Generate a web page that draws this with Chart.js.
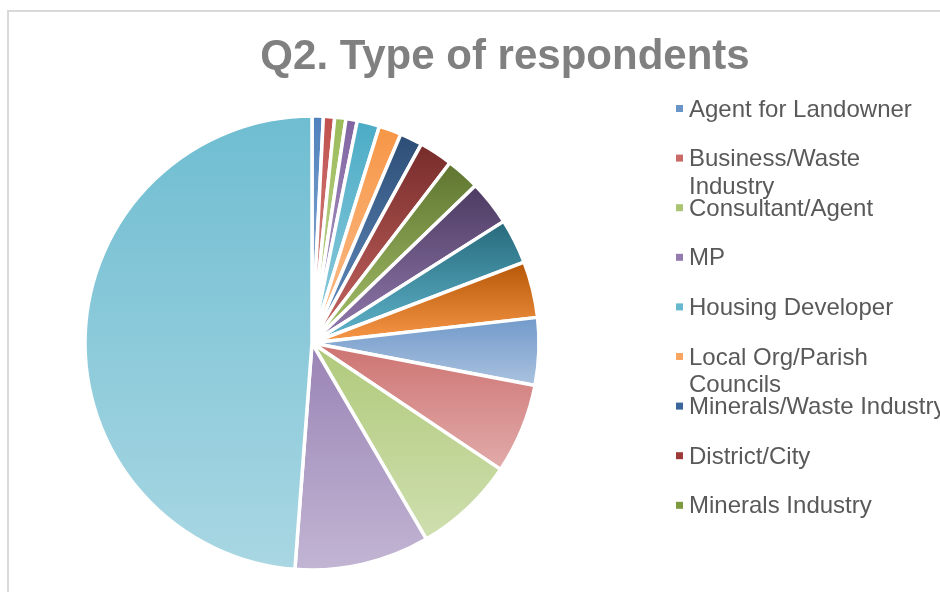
<!DOCTYPE html>
<html>
<head>
<meta charset="utf-8">
<script src="https://cdn.jsdelivr.net/npm/chart.js@4.4.1/dist/chart.umd.min.js"></script>
<style>
  html, body { margin: 0; padding: 0; background: #fff; overflow: hidden; }
  #wrap { position: relative; width: 940px; height: 592px; }
  #frame {
    position: absolute; left: 7px; top: 10px; width: 1000px; height: 700px;
    border-left: 2px solid #d9d9d9; border-top: 2px solid #d9d9d9;
  }
  canvas { position: absolute; left: 0; top: 0; }
</style>
</head>
<body>
<div id="wrap">
  <div id="frame"></div>
  <canvas id="respondentsPie" width="940" height="592"></canvas>
</div>
<script>
const chartTitle = "Q2. Type of respondents";

// only the first 9 names are visible in the legend, the rest are cut off
const respondentTypes = [
  "Agent for Landowner",
  ["Business/Waste", "Industry"],
  "Consultant/Agent",
  "MP",
  "Housing Developer",
  ["Local Org/Parish", "Councils"],
  "Minerals/Waste Industry",
  "District/City",
  "Minerals Industry",
  "Category 10",
  "Category 11",
  "Category 12",
  "Category 13",
  "Category 14",
  "Category 15",
  "Category 16",
  "Category 17"
];

const respondentCounts = [1, 1, 1, 1, 2, 2, 2, 3, 3, 4, 4, 5, 6, 8, 9, 12, 61];

const sliceColors = [
  "#4F81BD", "#C0504D", "#9BBB59", "#8064A2", "#4BACC6", "#F79646",
  "#2C4D75", "#772C2A", "#5F7530", "#4D3B62", "#276A7C", "#B65708",
  "#729ACA", "#CD7371", "#AFC97A", "#9983B5", "#6FBDD1"
];

const legendShown = 9;
const pieRadius = 227;

// lighten a hex colour in HSL space (Excel style gradient end)
function lighten(hex, k) {
  let r = parseInt(hex.slice(1, 3), 16) / 255;
  let g = parseInt(hex.slice(3, 5), 16) / 255;
  let b = parseInt(hex.slice(5, 7), 16) / 255;
  const max = Math.max(r, g, b), min = Math.min(r, g, b);
  let h = 0, s = 0, l = (max + min) / 2;
  if (max !== min) {
    const d = max - min;
    s = l > 0.5 ? d / (2 - max - min) : d / (max + min);
    if (max === r) h = (g - b) / d + (g < b ? 6 : 0);
    else if (max === g) h = (b - r) / d + 2;
    else h = (r - g) / d + 4;
    h /= 6;
  }
  l = l + (1 - l) * k;
  function hue2rgb(p, q, t) {
    if (t < 0) t += 1;
    if (t > 1) t -= 1;
    if (t < 1 / 6) return p + (q - p) * 6 * t;
    if (t < 1 / 2) return q;
    if (t < 2 / 3) return p + (q - p) * (2 / 3 - t) * 6;
    return p;
  }
  if (s === 0) {
    r = g = b = l;
  } else {
    const q = l < 0.5 ? l * (1 + s) : l + s - l * s;
    const p = 2 * l - q;
    r = hue2rgb(p, q, h + 1 / 3);
    g = hue2rgb(p, q, h);
    b = hue2rgb(p, q, h - 1 / 3);
  }
  return "rgb(" + Math.round(r * 255) + "," + Math.round(g * 255) + "," + Math.round(b * 255) + ")";
}

function sliceGradient(context) {
  const chart = context.chart;
  const area = chart.chartArea;
  const i = context.dataIndex;
  const base = sliceColors[i % sliceColors.length];
  if (!area || i === undefined) return base;

  const data = context.dataset.data;
  const total = data.reduce((a, b) => a + b, 0);
  let before = 0;
  for (let j = 0; j < i; j++) before += data[j];
  const a0 = -Math.PI / 2 + (2 * Math.PI * before) / total;
  const a1 = a0 + (2 * Math.PI * data[i]) / total;

  const cx = (area.left + area.right) / 2;
  const cy = (area.top + area.bottom) / 2;
  const ys = [cy, cy + pieRadius * Math.sin(a0), cy + pieRadius * Math.sin(a1)];
  [-Math.PI / 2, Math.PI / 2, 3 * Math.PI / 2].forEach(function (a) {
    if (a > a0 && a < a1) ys.push(cy + pieRadius * Math.sin(a));
  });
  const top = Math.min.apply(null, ys);
  const bottom = Math.max.apply(null, ys);

  const grad = chart.ctx.createLinearGradient(0, top, 0, bottom);
  grad.addColorStop(0, base);
  grad.addColorStop(1, lighten(base, 0.4));
  return grad;
}

const titleAndLegend = {
  id: "titleAndLegend",
  afterDraw(chart) {
    const ctx = chart.ctx;
    ctx.save();

    ctx.fillStyle = "#808080";
    ctx.font = 'bold 42px "Liberation Sans", Arial, sans-serif';
    ctx.textAlign = "center";
    ctx.textBaseline = "alphabetic";
    ctx.fillText(chartTitle, 505, 68.5);

    ctx.textAlign = "left";
    ctx.font = '24px "Liberation Sans", Arial, sans-serif';
    const labels = chart.data.labels;
    for (let i = 0; i < legendShown && i < labels.length; i++) {
      const y = 116.5 + i * 49.6;
      ctx.fillStyle = lighten(sliceColors[i], 0.15);
      ctx.fillRect(676, y - 11.5, 7, 7);
      ctx.fillStyle = "#595959";
      const lines = Array.isArray(labels[i]) ? labels[i] : [labels[i]];
      lines.forEach(function (line, k) {
        ctx.fillText(line, 689, y + k * 27.5);
      });
    }
    ctx.restore();
  }
};

document.addEventListener("DOMContentLoaded", function () {
  const canvas = document.getElementById("respondentsPie");
  const ctx = canvas.getContext("2d");
  new Chart(ctx, {
    type: "pie",
    data: {
      labels: respondentTypes,
      datasets: [
        {
          label: "Respondents",
          data: respondentCounts,
          backgroundColor: sliceGradient,
          borderColor: "#ffffff",
          borderWidth: 3.5,
          radius: pieRadius,
        },
      ],
    },
    options: {
      responsive: false,
      maintainAspectRatio: false,
      animation: false,
      events: [],
      layout: {
        padding: { left: 85, right: 401, top: 116, bottom: 22 },
      },
      plugins: {
        legend: { display: false },
        title: { display: false },
        tooltip: { enabled: false },
      },
    },
    plugins: [titleAndLegend],
  });
});
</script>
</body>
</html>
